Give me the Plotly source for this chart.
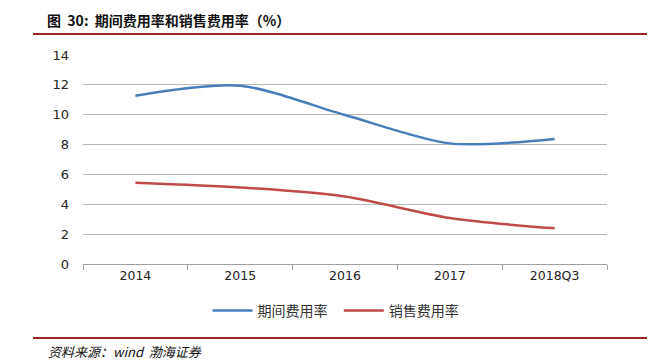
import plotly.graph_objects as go

categories = ["2014", "2015", "2016", "2017", "2018Q3"]
period_expense_rate = [11.27, 11.94, 9.98, 8.08, 8.38]
sales_expense_rate = [5.45, 5.13, 4.52, 3.08, 2.39]
y_ticks = [0, 2, 4, 6, 8, 10, 12, 14]

fig = go.Figure()
fig.add_trace(go.Scatter(x=categories, y=period_expense_rate, name="期间费用率  ",
                         mode="lines", line=dict(color="#4A7EBB", width=2.5, shape="spline", smoothing=0.8)))
fig.add_trace(go.Scatter(x=categories, y=sales_expense_rate, name="销售费用率",
                         mode="lines", line=dict(color="#BE4B48", width=2.5, shape="spline", smoothing=0.8)))

font_main = "Noto Sans CJK SC, DejaVu Sans, sans-serif"
fig.update_layout(
    width=662, height=360, autosize=False,
    margin=dict(l=83, r=55, t=55, b=96, autoexpand=False),
    paper_bgcolor="white", plot_bgcolor="white",
    font=dict(family=font_main, size=12, color="#333333"),
    showlegend=True,
    legend=dict(orientation="h", x=0.5 - 9/524, xanchor="center", xref="paper",
                y=49/360, yref="container", yanchor="middle", itemwidth=40,
                font=dict(size=14, color="#333333"), tracegroupgap=0),
    xaxis=dict(type="category", showgrid=False, showline=True, linecolor="#A0A0A0", linewidth=1,
               ticks="outside", ticklen=5, tickcolor="#A0A0A0", tickson="boundaries",
               tickfont=dict(family="DejaVu Sans, sans-serif", size=12.5, color="#222222"),
               range=[-0.5, 4.5], automargin=False),
    yaxis=dict(range=[0, 14], tickvals=y_ticks, showgrid=True, gridcolor="#B8B8B8", gridwidth=1,
               zeroline=False, showline=False, ticks="", ticklabelstandoff=13, automargin=False,
               tickfont=dict(family="DejaVu Sans, sans-serif", size=13, color="#222222")),
    shapes=[
        dict(type="line", xref="paper", yref="paper", x0=-50/524, x1=564/524, y0=1 + 21/209, y1=1 + 21/209,
             line=dict(color="#9B2423", width=2)),
        dict(type="line", xref="paper", yref="paper", x0=-50/524, x1=564/524, y0=-74/209, y1=-74/209,
             line=dict(color="#9B2423", width=2)),
    ],
    annotations=[
        dict(text="<b>图  30:  期间费用率和销售费用率（%）</b>", xref="paper", yref="paper",
             x=-38/524, y=1 + 35/209, xanchor="left", yanchor="middle", showarrow=False,
             font=dict(size=14, color="#111111", family=font_main)),
        dict(text="<i>资料来源：wind  渤海证券</i>", xref="paper", yref="paper",
             x=-37/524, y=-87/209, xanchor="left", yanchor="middle", showarrow=False,
             font=dict(size=13, color="#111111", family=font_main)),
    ],
)

fig.write_html("out.html", config={"displayModeBar": False},
               post_script="document.body.style.margin='0';document.body.style.overflow='hidden';")
